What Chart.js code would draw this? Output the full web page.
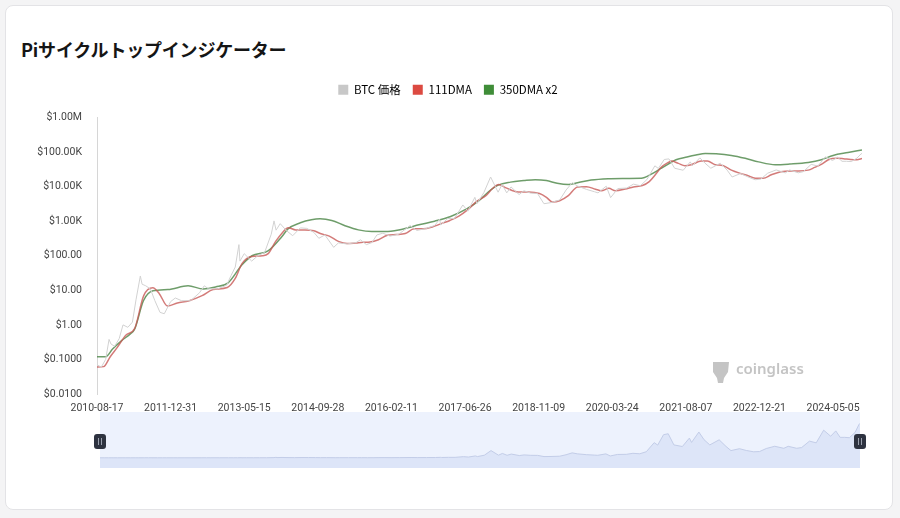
<!DOCTYPE html>
<html lang="ja">
<head>
<meta charset="utf-8">
<title>Piサイクルトップインジケーター</title>
<script src="https://cdn.jsdelivr.net/npm/chart.js@4.4.1/dist/chart.umd.min.js"></script>
<style>
    html, body { margin: 0; padding: 0; background: #f4f4f5; }
    body { width: 900px; height: 518px; position: relative; overflow: hidden; font-family: "Noto Sans CJK JP", "Noto Sans", sans-serif; }
    .card { position: absolute; left: 5px; top: 5px; width: 886px; height: 503px; background: #fff; border: 1px solid #e3e3e6; border-radius: 8px; }
    .card h2 { position: absolute; left: 15px; top: 30px; margin: 0; font-size: 18px; font-weight: 700; color: #151515; letter-spacing: -0.2px; }
    #mainChart { position: absolute; left: 0; top: 72px; }
    #zoomChart { position: absolute; left: 0; top: 412px; }
</style>
</head>
<body>
<div class="card"><h2>Piサイクルトップインジケーター</h2></div>
<canvas id="mainChart" width="900" height="340"></canvas>
<canvas id="zoomChart" width="900" height="56"></canvas>
<script>
// --- dados ---
const startDate = '2010-08-17';
const endDate = '2024-11-18';

const btcDates = ['2010-08-17','2010-09-15','2010-10-15','2010-11-07','2010-11-20','2010-12-15','2011-01-15','2011-02-10','2011-03-15','2011-04-15','2011-05-10','2011-06-08','2011-06-20','2011-07-15','2011-08-15','2011-09-15','2011-10-20','2011-11-18','2011-12-31','2012-02-01','2012-03-15','2012-05-15','2012-07-15','2012-08-16','2012-09-15','2012-11-15','2013-01-15','2013-02-15','2013-03-15','2013-04-09','2013-04-16','2013-05-15','2013-07-05','2013-08-15','2013-10-01','2013-11-15','2013-12-04','2013-12-18','2014-01-15','2014-02-25','2014-04-10','2014-06-01','2014-07-15','2014-09-01','2014-10-05','2014-11-15','2015-01-14','2015-02-15','2015-04-15','2015-06-15','2015-07-15','2015-08-25','2015-10-01','2015-11-04','2015-12-15','2016-02-01','2016-04-01','2016-06-17','2016-08-02','2016-10-01','2016-12-01','2017-01-04','2017-01-12','2017-03-01','2017-04-15','2017-06-11','2017-07-15','2017-09-01','2017-09-15','2017-11-01','2017-12-17','2018-02-06','2018-03-05','2018-04-06','2018-05-05','2018-06-29','2018-08-01','2018-09-15','2018-11-01','2018-12-15','2019-02-01','2019-04-01','2019-05-15','2019-06-26','2019-08-01','2019-10-01','2019-11-25','2019-12-18','2020-02-12','2020-03-13','2020-05-01','2020-07-01','2020-08-15','2020-10-01','2020-11-15','2021-01-08','2021-02-01','2021-03-13','2021-04-14','2021-05-23','2021-07-20','2021-09-06','2021-09-21','2021-11-10','2021-12-15','2022-01-24','2022-03-29','2022-05-15','2022-06-18','2022-08-15','2022-10-01','2022-11-21','2022-12-31','2023-02-15','2023-04-14','2023-06-15','2023-07-15','2023-09-11','2023-10-15','2023-12-08','2024-01-23','2024-03-14','2024-05-01','2024-06-05','2024-07-05','2024-08-05','2024-09-06','2024-10-15','2024-11-11','2024-11-18'];
const btcPrice = [0.07,0.06,0.10,0.38,0.28,0.24,0.40,1.00,0.85,1.20,5.5,26,15,13.5,11,5,2.3,2.1,4.7,6,5,5,8.5,13.5,11,11,14,27,47,210,70,115,70,100,125,420,1020,550,850,540,380,640,620,475,320,400,175,235,220,240,290,210,240,400,450,370,420,750,540,610,750,1130,780,1200,1200,2950,1950,4900,3200,6700,19000,6900,11500,6600,9800,5900,7600,6500,6350,3200,3450,4100,8000,13000,10400,8300,7100,6600,10300,4800,8800,9100,11800,10600,16000,40000,33500,61000,63500,34000,29800,52000,40600,68000,48000,34000,47500,30000,19000,24000,19300,15800,16500,24500,30400,25000,30300,25100,27000,44000,39500,73000,57000,71000,54000,54000,53000,67000,88000,91000];

const dma111Dates = ['2010-08-17','2010-10-01','2010-11-15','2011-01-01','2011-03-01','2011-05-01','2011-07-01','2011-09-01','2011-10-15','2011-12-10','2012-02-15','2012-05-01','2012-08-01','2012-10-15','2013-01-20','2013-03-15','2013-05-01','2013-07-05','2013-09-15','2013-10-25','2013-12-15','2014-01-27','2014-03-10','2014-05-01','2014-07-01','2014-09-01','2014-10-15','2014-12-15','2015-02-15','2015-04-15','2015-06-15','2015-08-01','2015-09-18','2015-11-15','2016-01-15','2016-03-15','2016-05-15','2016-07-15','2016-09-15','2016-11-15','2017-01-15','2017-03-15','2017-05-15','2017-07-15','2017-09-15','2017-11-15','2018-01-01','2018-02-10','2018-04-01','2018-06-24','2018-09-01','2018-11-15','2019-01-01','2019-02-10','2019-04-01','2019-05-30','2019-08-01','2019-10-01','2019-12-01','2020-01-10','2020-03-01','2020-04-15','2020-06-20','2020-08-15','2020-10-15','2020-12-01','2021-01-11','2021-02-20','2021-04-09','2021-05-01','2021-06-17','2021-08-01','2021-09-13','2021-11-20','2022-01-01','2022-02-23','2022-04-15','2022-06-13','2022-08-15','2022-10-01','2022-11-23','2023-01-15','2023-03-12','2023-05-15','2023-07-26','2023-09-15','2023-11-18','2024-01-01','2024-02-15','2024-04-03','2024-06-01','2024-07-15','2024-09-01','2024-10-15','2024-11-18'];
const dma111 = [0.06,0.062,0.12,0.22,0.5,0.8,7,11.8,8,3.5,4.3,4.9,7,10.5,12,22,60,95,100,115,260,450,650,560,560,530,440,370,260,225,235,245,250,290,390,410,440,600,600,680,850,1050,1400,2150,3800,5500,9000,11500,9200,7000,7000,6300,4900,3600,3900,5500,9800,10000,8400,7600,8900,7600,8500,9800,10800,14000,22000,36000,50000,55000,47000,40000,43000,55000,55000,43000,41000,30000,24000,21000,17500,17500,22000,27000,28500,28500,30000,36000,44000,60000,66000,64000,61000,60000,65000];

const dma350x2Dates = ['2010-08-17','2010-10-15','2010-12-01','2011-02-01','2011-04-01','2011-05-01','2011-06-29','2011-09-02','2011-12-13','2012-04-28','2012-08-09','2012-11-01','2013-01-25','2013-04-30','2013-07-07','2013-10-24','2014-01-27','2014-03-09','2014-06-01','2014-08-15','2014-10-13','2015-01-01','2015-04-01','2015-07-01','2015-10-01','2016-01-01','2016-04-01','2016-08-24','2016-12-01','2017-03-16','2017-07-10','2017-10-01','2017-12-01','2018-02-07','2018-05-01','2018-08-01','2018-10-17','2019-01-01','2019-03-15','2019-05-30','2019-08-01','2019-11-01','2020-02-26','2020-06-01','2020-10-08','2020-12-15','2021-02-15','2021-04-09','2021-06-01','2021-08-15','2021-10-15','2021-12-17','2022-03-01','2022-06-13','2022-09-15','2022-12-15','2023-04-08','2023-07-15','2023-11-18','2024-02-15','2024-05-05','2024-08-15','2024-11-18'];
const dma350x2 = [0.12,0.12,0.2,0.35,0.55,0.76,5,9.7,10.5,13.5,11,12.5,16.5,55,100,138,360,600,900,1100,1170,1050,740,560,500,500,560,800,1000,1350,2300,4000,7000,11000,13500,15000,15900,15000,12500,11500,13000,15500,17000,17300,17500,23000,33000,45000,60000,72000,82000,91000,89000,80000,66000,52000,43000,45000,50000,60000,80000,97000,115000];

const xTickLabels = ['2010-08-17','2011-12-31','2013-05-15','2014-09-28','2016-02-11','2017-06-26','2018-11-09','2020-03-24','2021-08-07','2022-12-21','2024-05-05'];
const yTickValues = [0.01, 0.1, 1, 10, 100, 1000, 10000, 100000, 1000000];
const yTickLabels = ['$0.0100','$0.1000','$1.00','$10.00','$100.00','$1.00K','$10.00K','$100.00K','$1.00M'];

const seriesNames = ['BTC 価格', '111DMA', '350DMA x2'];
const legendColors = ['#c8c8c8', '#dc4a41', '#3f8d38'];
const lineColors = ['#d2d2d2', 'rgba(200, 90, 88, 0.8)', 'rgba(85, 140, 80, 0.85)'];

document.addEventListener('DOMContentLoaded', () => {
    const DAY = 86400000;
    const t0 = Date.parse(startDate);
    const toDay = (s) => (Date.parse(s) - t0) / DAY;
    const toPoints = (dates, values) => dates.map((d, i) => ({ x: toDay(d), y: values[i] }));
    const lastDay = toDay(endDate);
    const tickFont = { family: 'Roboto, "DejaVu Sans", sans-serif', size: 10.5 };

    // legenda: mais espaço abaixo e centrada no cartão
    const legendTweak = {
        id: 'legendTweak',
        beforeUpdate(chart) {
            const lg = chart.legend;
            if (!lg || lg._tweaked) return;
            lg._tweaked = true;
            const fit = lg.fit, draw = lg.draw;
            lg.fit = function () { fit.call(this); this.height += 12; };
            lg.draw = function () {
                chart.ctx.save();
                chart.ctx.translate(17, 0);
                draw.call(this);
                chart.ctx.restore();
            };
        }
    };

    // marca d'água coinglass
    const watermark = {
        id: 'watermark',
        afterDatasetsDraw(chart) {
            const ctx = chart.ctx;
            ctx.save();
            ctx.fillStyle = '#c4c4c4';
            ctx.beginPath();
            ctx.moveTo(713, 290); ctx.lineTo(729, 290); ctx.lineTo(728, 300);
            ctx.lineTo(724, 306); ctx.lineTo(723, 311); ctx.lineTo(718, 311);
            ctx.lineTo(717, 306); ctx.lineTo(713, 300);
            ctx.closePath();
            ctx.fill();
            ctx.font = '600 15px "Noto Sans", sans-serif';
            ctx.textBaseline = 'middle';
            ctx.fillText('coinglass', 736, 298);
            ctx.restore();
        }
    };

    new Chart(document.getElementById('mainChart'), {
        type: 'line',
        data: {
            datasets: [
                { label: seriesNames[0], data: toPoints(btcDates, btcPrice), borderColor: lineColors[0], backgroundColor: legendColors[0], borderWidth: 1, tension: 0 },
                { label: seriesNames[1], data: toPoints(dma111Dates, dma111), borderColor: lineColors[1], backgroundColor: legendColors[1], borderWidth: 1.5, cubicInterpolationMode: 'monotone' },
                { label: seriesNames[2], data: toPoints(dma350x2Dates, dma350x2), borderColor: lineColors[2], backgroundColor: legendColors[2], borderWidth: 1.5, cubicInterpolationMode: 'monotone' },
            ]
        },
        options: {
            responsive: false,
            animation: false,
            parsing: false,
            elements: { point: { radius: 0 } },
            layout: { padding: { top: 0, right: 38, left: 0, bottom: 0 } },
            plugins: {
                tooltip: { enabled: false },
                legend: {
                    position: 'top',
                    labels: {
                        boxWidth: 10, boxHeight: 10, padding: 12, color: '#555',
                        font: { family: '"Noto Sans CJK JP", "Noto Sans", sans-serif', size: 11.5 },
                        generateLabels: (chart) => chart.data.datasets.map((ds, i) => ({
                            text: ds.label, fillStyle: legendColors[i], strokeStyle: legendColors[i], lineWidth: 0, datasetIndex: i, hidden: false
                        }))
                    }
                }
            },
            scales: {
                x: {
                    type: 'linear', min: 0, max: lastDay,
                    grid: { display: false },
                    border: { display: false },
                    afterBuildTicks: (scale) => { scale.ticks = xTickLabels.map(l => ({ value: toDay(l) })); },
                    afterFit: (scale) => { scale.height = 18; },
                    ticks: { color: '#444', font: tickFont, maxRotation: 0, autoSkip: false, padding: 0,
                        callback: (v, i) => xTickLabels[i] }
                },
                y: {
                    type: 'logarithmic', min: yTickValues[0], max: yTickValues[yTickValues.length - 1],
                    grid: { display: false },
                    border: { display: true, color: '#d6d6d6', width: 1 },
                    afterBuildTicks: (scale) => { scale.ticks = yTickValues.map(v => ({ value: v })); },
                    afterFit: (scale) => { scale.width = 97; },
                    ticks: { color: '#444', font: tickFont, padding: 7, autoSkip: false,
                        callback: (v, i) => yTickLabels[i] }
                }
            }
        },
        plugins: [legendTweak, watermark]
    });

    // barra de zoom (miniatura em escala linear)
    const handles = {
        id: 'handles',
        beforeDatasetsDraw(chart) {
            const { ctx, chartArea: a } = chart;
            ctx.save();
            ctx.fillStyle = '#edf2fd';
            ctx.fillRect(a.left, a.top, a.right - a.left, a.bottom - a.top);
            ctx.restore();
        },
        afterDatasetsDraw(chart) {
            const { ctx, chartArea: a } = chart;
            ctx.save();
            [a.left, a.right].forEach(x => {
                ctx.fillStyle = '#2e3340';
                ctx.beginPath();
                ctx.roundRect(x - 6, 22, 12, 15, 3);
                ctx.fill();
                ctx.fillStyle = '#9aa0ad';
                ctx.fillRect(x - 2, 26, 1, 7);
                ctx.fillRect(x + 1, 26, 1, 7);
            });
            ctx.restore();
        }
    };

    new Chart(document.getElementById('zoomChart'), {
        type: 'line',
        data: {
            datasets: [{ data: toPoints(btcDates, btcPrice), borderColor: '#c3cde8', backgroundColor: '#dde5f8', borderWidth: 1, fill: 'start', tension: 0 }]
        },
        options: {
            responsive: false,
            animation: false,
            parsing: false,
            elements: { point: { radius: 0 } },
            layout: { padding: { left: 100, right: 40, top: 0, bottom: 0 } },
            plugins: { legend: { display: false }, tooltip: { enabled: false } },
            scales: {
                x: { type: 'linear', min: 0, max: lastDay, display: false },
                y: { type: 'linear', min: -27000, max: 121000, display: false }
            }
        },
        plugins: [handles]
    });
});
</script>
</body>
</html>
